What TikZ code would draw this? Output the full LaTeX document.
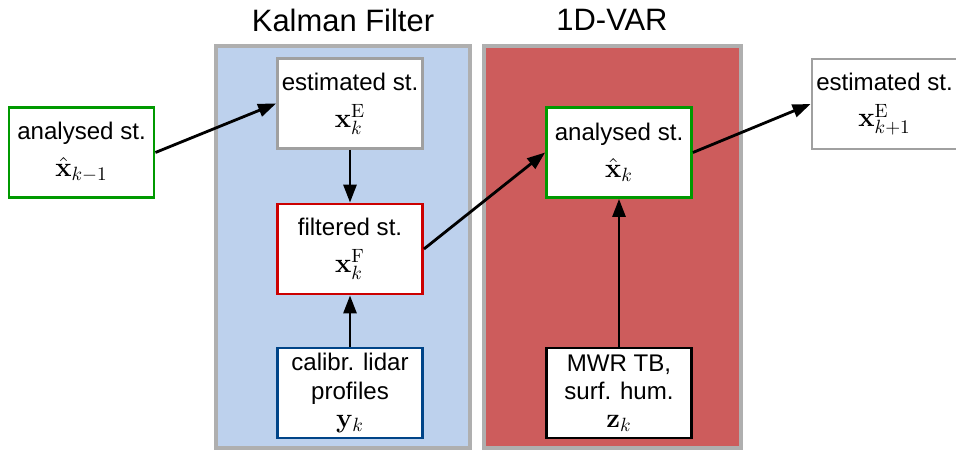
\documentclass[tikz,border=0pt]{standalone}
\usepackage{fix-cm}
\usepackage[no-math]{fontspec}
\setmainfont{Liberation Sans}
\usetikzlibrary{arrows.meta,backgrounds}

\definecolor{kfblue}{RGB}{189,209,237}
\definecolor{varred}{RGB}{205,92,92}
\definecolor{panelgray}{RGB}{175,175,175}
\definecolor{stgreen}{RGB}{0,153,0}
\definecolor{stred}{RGB}{204,0,0}
\definecolor{stblue}{RGB}{0,68,136}
\definecolor{stgray}{RGB}{160,160,160}

% state symbols are set a bit larger than the labels
\newcommand{\stmath}[1]{{\fontsize{15.6}{16}\selectfont$#1$}}

\begin{document}
\begin{tikzpicture}[
  font=\fontsize{13.7}{16}\selectfont,
  >={Triangle[length=3.6mm,width=2.6mm]},
  title/.style={font=\fontsize{17.6}{20}\selectfont},
  panel/.style={draw=panelgray, line width=2.2pt, minimum width=#1, minimum height=8.04cm},
  st/.style={draw=#1, line width=1.6pt, fill=white, minimum width=2.9cm, minimum height=1.8cm, align=center, inner sep=2pt},
  flow/.style={->, line width=1.6pt},
]
  \useasboundingbox (0,0) rectangle (19.12,9.02);

  % ---- Kalman filter / 1D-VAR panels
  \begin{scope}[on background layer]
    \node[panel=5.08cm, fill=kfblue] (kf) at (6.86,4.08) {};
    \node[panel=5.14cm, fill=varred] (var) at (12.25,4.08) {};
  \end{scope}
  \node[title] (kftitle) at (6.86,8.62) {Kalman Filter};
  \node[title] (vartitle) at (12.24,8.62) {1D-VAR};

  % ---- states
  \node[st=stgreen] (ana0) at (1.63,5.97) {analysed st.\\[5pt] \stmath{\hat{\mathbf{x}}_{k-1}}};
  \node[st=stgray]  (est0) at (7.00,6.95) {estimated st.\\[5pt] \stmath{\mathbf{x}_k^{\mathrm{E}}}};
  \node[st=stred]   (filt) at (7.00,4.04) {filtered st.\\[5pt] \stmath{\mathbf{x}_k^{\mathrm{F}}}};
  \node[st=stgreen] (ana1) at (12.38,5.97) {analysed st.\\[5pt] \stmath{\hat{\mathbf{x}}_k}};
  \node[st=stgray]  (est1) at (17.69,6.94) {estimated st.\\[5pt] \stmath{\mathbf{x}_{k+1}^{\mathrm{E}}}};

  % ---- observations
  \node[st=stblue] (lidar) at (7.00,1.16) {calibr. lidar\\ profiles\\ \stmath{\mathbf{y}_k}};
  \node[st=black]  (mwr) at (12.38,1.16) {MWR TB,\\ surf. hum.\\ \stmath{\mathbf{z}_k}};

  \draw[flow] (ana0.east) -- (est0.west);
  \draw[flow] (est0) -- (filt);
  \draw[flow] (lidar) -- (filt);
  \draw[flow] (filt.east) -- (ana1.west);
  \draw[flow] (mwr) -- (ana1);
  \draw[flow] (ana1.east) -- (est1.west);
\end{tikzpicture}
\end{document}
